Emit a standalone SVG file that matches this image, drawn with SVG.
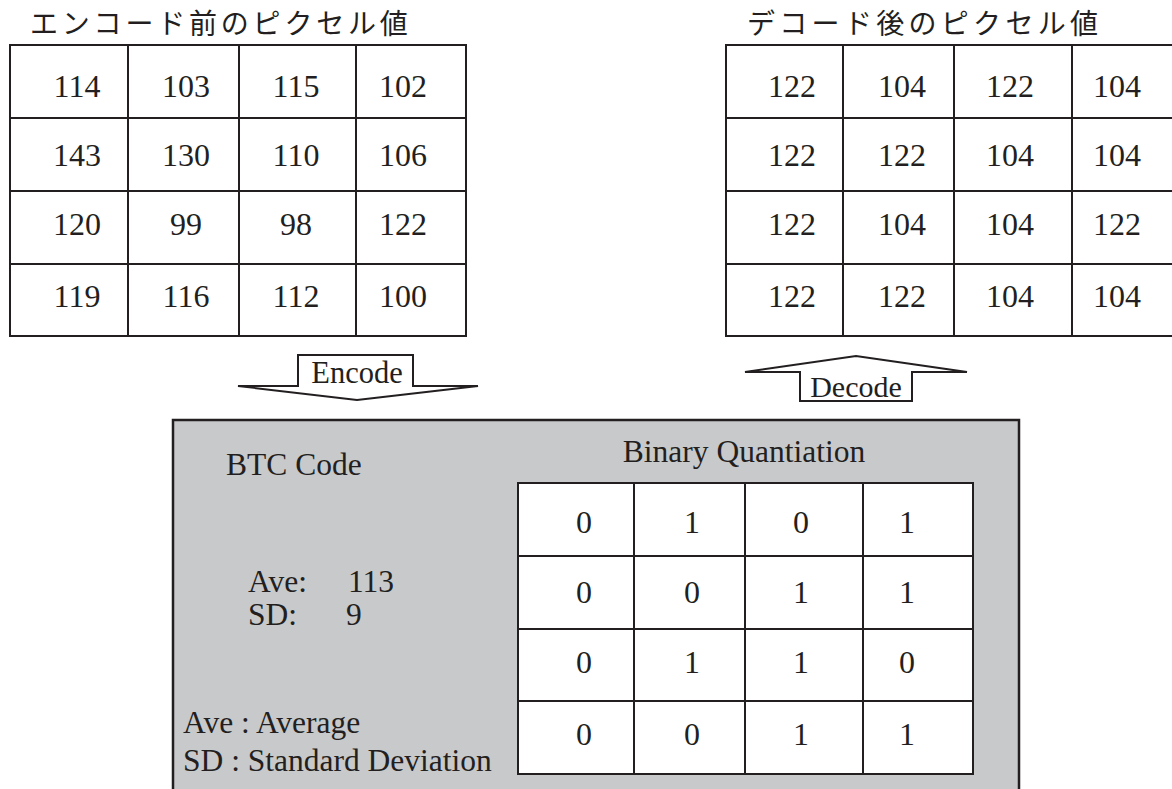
<svg xmlns="http://www.w3.org/2000/svg" width="1172" height="789" viewBox="0 0 1172 789">
<style>
.ttl{font-family:"Noto Sans CJK JP","Noto Sans",sans-serif;font-size:28px;letter-spacing:3.8px;fill:#231f20}
.num{font-family:"Liberation Serif","Times New Roman",serif;font-size:32px;fill:#231f20;text-anchor:middle}
.lbl{font-family:"Liberation Serif","Times New Roman",serif;font-size:31.5px;fill:#231f20}
.grid{fill:#fff;stroke:#231f20;stroke-width:2}
.ln{stroke:#231f20;stroke-width:2;fill:none}
.arrow{fill:#fff;stroke:#231f20;stroke-width:2;stroke-linejoin:miter}
</style>
<rect width="1172" height="789" fill="#fff"/>

<g id="before">
<text class="ttl" x="30" y="34">エンコード前のピクセル値</text>
<rect class="grid" x="10" y="45" width="456" height="291"/>
<path class="ln" d="M128 45V336M239 45V336M356 45V336M10 118H466M10 191H466M10 264H466"/>
<g class="num">
<text x="77" y="97">114</text><text x="186" y="97">103</text><text x="296" y="97">115</text><text x="403" y="97">102</text>
<text x="77" y="166">143</text><text x="186" y="166">130</text><text x="296" y="166">110</text><text x="403" y="166">106</text>
<text x="77" y="235">120</text><text x="186" y="235">99</text><text x="296" y="235">98</text><text x="403" y="235">122</text>
<text x="77" y="307">119</text><text x="186" y="307">116</text><text x="296" y="307">112</text><text x="403" y="307">100</text>
</g>
</g>

<g id="after">
<text class="ttl" x="747" y="34" style="letter-spacing:4.3px">デコード後のピクセル値</text>
<rect class="grid" x="726" y="45" width="456" height="291"/>
<path class="ln" d="M843 45V336M954 45V336M1072 45V336M726 118H1182M726 191H1182M726 264H1182"/>
<g class="num">
<text x="792" y="97">122</text><text x="902" y="97">104</text><text x="1010" y="97">122</text><text x="1117" y="97">104</text>
<text x="792" y="166">122</text><text x="902" y="166">122</text><text x="1010" y="166">104</text><text x="1117" y="166">104</text>
<text x="792" y="235">122</text><text x="902" y="235">104</text><text x="1010" y="235">104</text><text x="1117" y="235">122</text>
<text x="792" y="307">122</text><text x="902" y="307">122</text><text x="1010" y="307">104</text><text x="1117" y="307">104</text>
</g>
</g>

<g id="connectors">
<g id="encode-arrow">
<polygon class="arrow" points="238,386 298,386 298,355 413,355 413,386 478,386 357,400"/>
<text class="lbl" x="357" y="383" text-anchor="middle" style="font-size:30.5px">Encode</text>
</g>
<g id="decode-arrow">
<polygon class="arrow" points="745,372 856,356 967,372 912,372 912,401 800,401 800,372"/>
<text class="lbl" x="856" y="397" text-anchor="middle" style="font-size:30px">Decode</text>
</g>
</g>

<g id="btc">
<rect x="173" y="420" width="846" height="390" fill="#c8c9cb" stroke="#231f20" stroke-width="2.5"/>
<text class="lbl" x="226" y="475">BTC Code</text>
<text class="lbl" x="744" y="462" text-anchor="middle">Binary Quantiation</text>
<text class="lbl" x="248" y="592">Ave:</text><text class="lbl" x="348" y="592">113</text>
<text class="lbl" x="248" y="625">SD:</text><text class="lbl" x="346" y="625">9</text>
<text class="lbl" x="183" y="733">Ave : Average</text>
<text class="lbl" x="183" y="771">SD : Standard Deviation</text>
<g id="binary">
<rect class="grid" x="518" y="483" width="455" height="291"/>
<path class="ln" d="M634 483V774M745 483V774M863 483V774M518 556H973M518 629H973M518 701H973"/>
<g class="num">
<text x="584" y="533">0</text><text x="692" y="533">1</text><text x="801" y="533">0</text><text x="907" y="533">1</text>
<text x="584" y="603">0</text><text x="692" y="603">0</text><text x="801" y="603">1</text><text x="907" y="603">1</text>
<text x="584" y="673">0</text><text x="692" y="673">1</text><text x="801" y="673">1</text><text x="907" y="673">0</text>
<text x="584" y="745">0</text><text x="692" y="745">0</text><text x="801" y="745">1</text><text x="907" y="745">1</text>
</g>
</g>
</g>
</svg>
